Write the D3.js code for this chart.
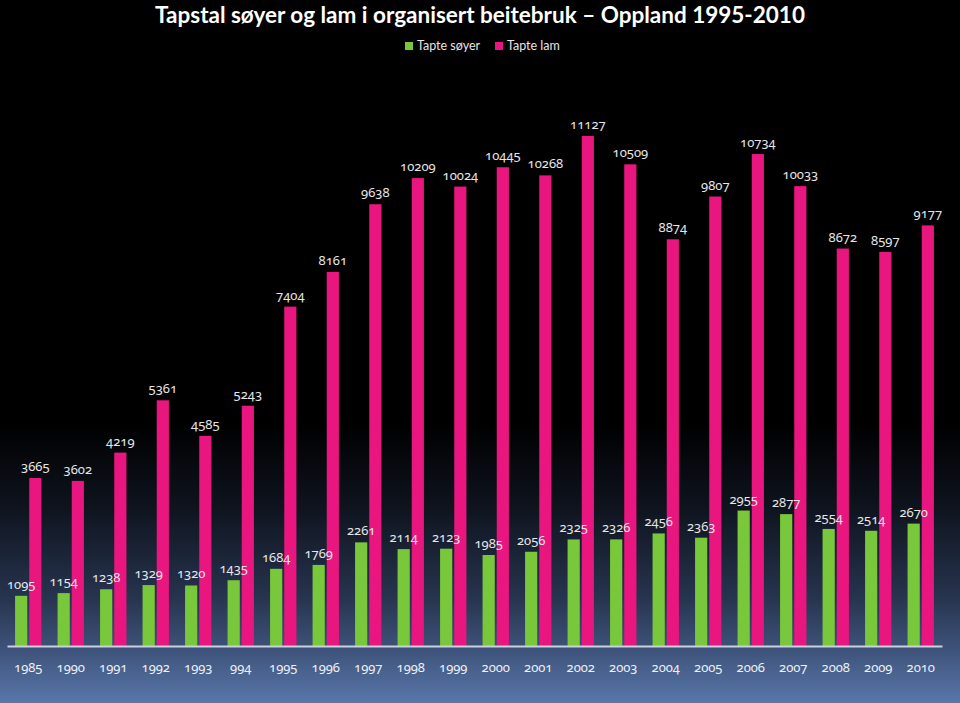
<!DOCTYPE html>
<html><head><meta charset="utf-8">
<script src="https://cdn.jsdelivr.net/npm/d3@7/dist/d3.min.js"></script>
<style>
html,body{margin:0;padding:0;background:#000;}
svg{display:block;}
text{font-family:Lato,"Open Sans","Noto Sans",sans-serif;}
.num{font-family:"Noto Sans",sans-serif;font-variant-numeric:oldstyle-nums;font-feature-settings:"onum" 1;}
</style></head><body>
<svg id="chart" width="960" height="703"></svg>
<script>
const categories = ["1985","1990","1991","1992","1993","994","1995","1996","1997","1998","1999","2000","2001","2002","2003","2004","2005","2006","2007","2008","2009","2010"];
const sheep = [1095,1154,1238,1329,1320,1435,1684,1769,2261,2114,2123,1985,2056,2325,2326,2456,2363,2955,2877,2554,2514,2670];
const lambs = [3665,3602,4219,5361,4585,5243,7404,8161,9638,10209,10024,10445,10268,11127,10509,8874,9807,10734,10033,8672,8597,9177];
const seriesNames = ["Tapte søyer","Tapte lam"];
const colors = ["#79c83c","#e8167e"];
const title = "Tapstal søyer og lam i organisert beitebruk – Oppland 1995-2010";

const svg = d3.select("#chart");
const W = 960, H = 703;
const defs = svg.append("defs");
const grad = defs.append("linearGradient").attr("id","bg").attr("x1",0).attr("y1",0).attr("x2",0).attr("y2",1);
[[0,"#000000"],[0.6,"#000000"],[0.72,"#0e131d"],[0.85,"#27344f"],[0.92,"#3d5178"],[1,"#5877aa"]]
  .forEach(([o,c])=>grad.append("stop").attr("offset",o).attr("stop-color",c));
svg.append("rect").attr("width",W).attr("height",H).attr("fill","url(#bg)");

const x = d3.scaleBand().domain(categories).range([7,942]).paddingInner(0).paddingOuter(0);
const inner = d3.scaleBand().domain([0,1]).range([x.bandwidth()*0.19, x.bandwidth()*0.81]).paddingInner(0.14);
const y = d3.scaleLinear().domain([0,11127]).range([646,136]);

const data = categories.map((c,i)=>({c, vals:[sheep[i],lambs[i]]}));

const g = svg.append("g");
const groups = g.selectAll("g.cat").data(data).join("g").attr("class","cat")
  .attr("transform",d=>`translate(${x(d.c)},0)`);
groups.selectAll("rect").data(d=>d.vals.map((v,k)=>({v,k}))).join("rect")
  .attr("x",d=>inner(d.k)).attr("width",inner.bandwidth())
  .attr("y",d=>y(d.v)).attr("height",d=>y(0)-y(d.v))
  .attr("fill",d=>colors[d.k]);
groups.selectAll("text.lbl").data(d=>d.vals.map((v,k)=>({v,k}))).join("text")
  .attr("class","lbl num")
  .attr("x",d=>inner(d.k)+inner.bandwidth()/2)
  .attr("y",d=>y(d.v)-7)
  .attr("text-anchor","middle")
  .attr("fill","#e6e6e6").attr("font-size",13)
  .text(d=>d.v);

// axis
const xAxis = d3.axisBottom(x).tickSize(0).tickPadding(17);
const ax = svg.append("g").attr("transform",`translate(0,${y(0)})`).call(xAxis);
ax.select(".domain").attr("stroke","#c9d0de").attr("stroke-width",2);
ax.selectAll("text").attr("class","num").attr("fill","#eef0f5").attr("font-size",13).attr("font-family",null);

// title
svg.append("text").attr("x",480).attr("y",23).attr("text-anchor","middle")
  .attr("fill","#ffffff").attr("font-weight","bold").attr("font-size",22.5)
  .attr("font-family","Lato, sans-serif")
  .text(title);

// legend
const leg = svg.append("g").attr("transform","translate(405,0)");
const legX = [0,90];
seriesNames.forEach((n,i)=>{
  leg.append("rect").attr("x",legX[i]).attr("y",42).attr("width",8).attr("height",8).attr("fill",colors[i]);
  leg.append("text").attr("x",legX[i]+12).attr("y",50).attr("fill","#e6e6e6").attr("font-size",12.5).text(n);
});
</script>
</body></html>
